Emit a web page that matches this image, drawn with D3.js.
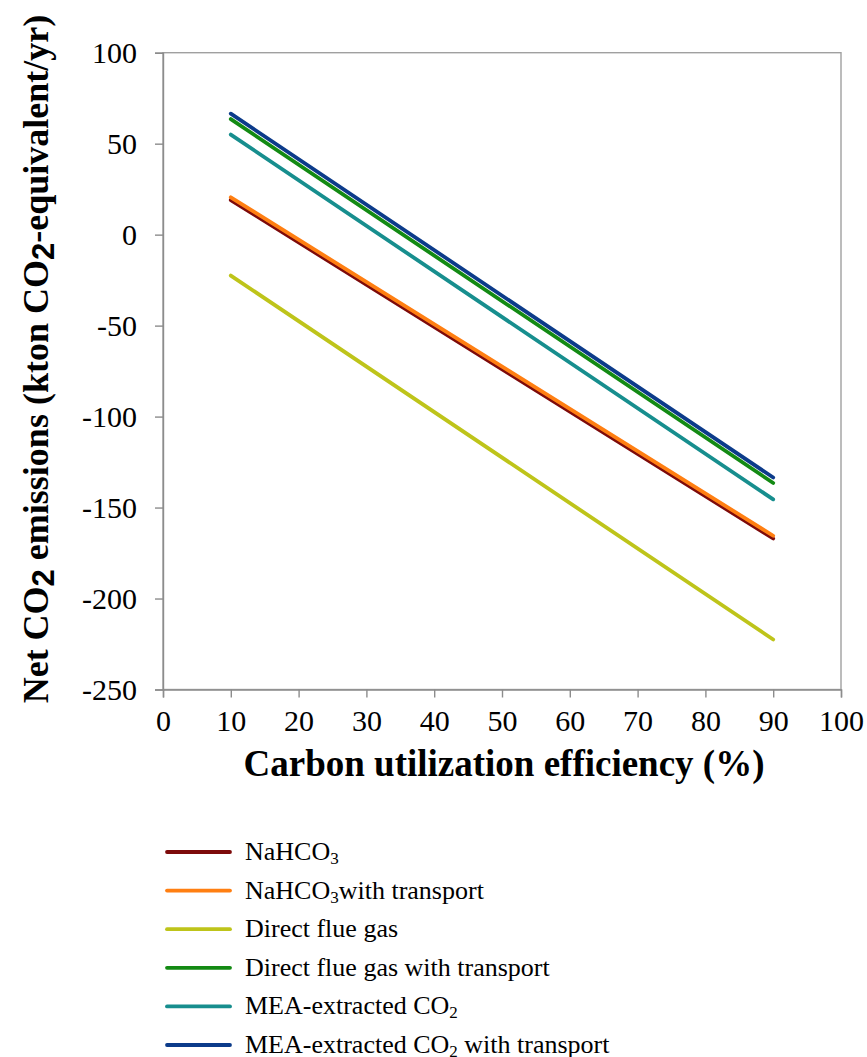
<!DOCTYPE html>
<html>
<head>
<meta charset="utf-8">
<script src="https://cdn.jsdelivr.net/npm/d3@7"></script>
<style>
  html, body { margin: 0; padding: 0; background: #fff; }
  svg { display: block; }
</style>
</head>
<body>
<svg id="chart" width="867" height="1057"></svg>
<script>
// Carbon utilization efficiency (%) at the two ends of each scenario line
const efficiency = [10, 90];

// Net CO2 emissions (kton CO2-equivalent/yr) for each scenario
const nahco3              = [19.0, -167.0];
const nahco3Transport     = [20.5, -165.5];
const directFlue          = [-22.5, -222.5];
const directFlueTransport = [63.5, -136.5];
const mea                 = [55.0, -145.5];
const meaTransport        = [66.5, -133.5];

const xTicks = [0, 10, 20, 30, 40, 50, 60, 70, 80, 90, 100];
const yTicks = [100, 50, 0, -50, -100, -150, -200, -250];

// Legend labels: [main text, subscript, trailing text]
const seriesNames = [
  ["NaHCO", "3", ""],
  ["NaHCO", "3", "with transport"],
  ["Direct flue gas", "", ""],
  ["Direct flue gas with transport", "", ""],
  ["MEA-extracted CO", "2", ""],
  ["MEA-extracted CO", "2", " with transport"]
];
const seriesValues = [nahco3, nahco3Transport, directFlue, directFlueTransport, mea, meaTransport];
const seriesColors = ["#7d0a0a", "#ff7f12", "#bec41a", "#138a13", "#178e8e", "#0c3b8a"];
// order in which the lines are painted (later ones on top)
const drawOrder = [2, 0, 1, 4, 3, 5];

const SERIF = "Liberation Serif";
const SANS = "Liberation Sans";

const svg = d3.select("#chart");
const plot = { left: 163, right: 841, top: 52.7, bottom: 689.5 };

const x = d3.scaleLinear().domain([0, 100]).range([plot.left, plot.right]);
const y = d3.scaleLinear().domain([-250, 100]).range([plot.bottom, plot.top]);

const axisColor = "#8c8c8c";
const fmt = d => String(d); // plain hyphen-minus for negatives

// plot frame
svg.append("rect")
  .attr("x", plot.left).attr("y", plot.top)
  .attr("width", plot.right - plot.left).attr("height", plot.bottom - plot.top)
  .attr("fill", "none").attr("stroke", "#a0a0a0").attr("stroke-width", 1.4);

// x axis
const xAxis = svg.append("g")
  .attr("transform", `translate(0,${plot.bottom})`)
  .call(d3.axisBottom(x).tickValues(xTicks).tickSize(8).tickPadding(10).tickFormat(fmt))
  .attr("font-family", SERIF).attr("font-size", 30);
xAxis.select(".domain").attr("stroke", axisColor).attr("stroke-width", 1.4);
xAxis.selectAll(".tick line").attr("stroke", axisColor).attr("stroke-width", 1.4);
xAxis.selectAll(".tick text")
  .attr("font-family", SERIF).attr("font-size", 30)
  .attr("fill", "#000").attr("dy", "0.78em");

// y axis
const yAxis = svg.append("g")
  .attr("transform", `translate(${plot.left},0)`)
  .call(d3.axisLeft(y).tickValues(yTicks).tickSize(8).tickPadding(18).tickFormat(fmt))
  .attr("font-family", SERIF).attr("font-size", 30);
yAxis.select(".domain").attr("stroke", axisColor).attr("stroke-width", 1.4);
yAxis.selectAll(".tick line").attr("stroke", axisColor).attr("stroke-width", 1.4);
yAxis.selectAll(".tick text")
  .attr("font-family", SERIF).attr("font-size", 30)
  .attr("fill", "#000").attr("dy", "0.33em");

// scenario lines
const line = d3.line()
  .x((d, i) => x(efficiency[i]))
  .y(d => y(d));

svg.append("g").selectAll("path")
  .data(drawOrder)
  .join("path")
  .attr("d", i => line(seriesValues[i]))
  .attr("fill", "none")
  .attr("stroke", i => seriesColors[i])
  .attr("stroke-width", 3.8)
  .attr("stroke-linecap", "round");

// x axis title
svg.append("text")
  .attr("x", (plot.left + plot.right) / 2 + 2)
  .attr("y", 776)
  .attr("text-anchor", "middle")
  .attr("font-family", SERIF)
  .attr("font-size", 37)
  .attr("font-weight", "bold")
  .text("Carbon utilization efficiency (%)");

// y axis title with subscripted 2s
const yTitle = svg.append("text")
  .attr("transform", `translate(48,${(plot.top + plot.bottom) / 2 - 12}) rotate(-90)`)
  .attr("text-anchor", "middle")
  .attr("font-family", SERIF)
  .attr("font-size", 36)
  .attr("font-weight", "bold");
const yTitleParts = [
  ["Net CO", false], ["2", true], [" emissions (kton CO", false], ["2", true], ["-equivalent/yr)", false]
];
let prevSub = false;
yTitleParts.forEach(([t, sub]) => {
  const ts = yTitle.append("tspan").text(t);
  if (sub) {
    ts.attr("font-family", SANS).attr("font-size", 31).attr("dy", 6);
  } else if (prevSub) {
    ts.attr("dy", -6);
  }
  prevSub = sub;
});

// legend
const legend = svg.append("g");
const legendTop = 852, legendStep = 38.6;
seriesNames.forEach((parts, i) => {
  const ly = legendTop + i * legendStep;
  legend.append("line")
    .attr("x1", 167).attr("x2", 230)
    .attr("y1", ly).attr("y2", ly)
    .attr("stroke", seriesColors[i])
    .attr("stroke-width", 3.8)
    .attr("stroke-linecap", "round");
  const t = legend.append("text")
    .attr("x", 245).attr("y", ly + 8)
    .attr("font-family", SERIF)
    .attr("font-size", 26);
  t.append("tspan").text(parts[0]);
  if (parts[1]) {
    t.append("tspan").attr("font-size", 17).attr("dy", 4).text(parts[1]);
    if (parts[2]) t.append("tspan").attr("dy", -4).text(parts[2]);
  }
});
</script>
</body>
</html>
